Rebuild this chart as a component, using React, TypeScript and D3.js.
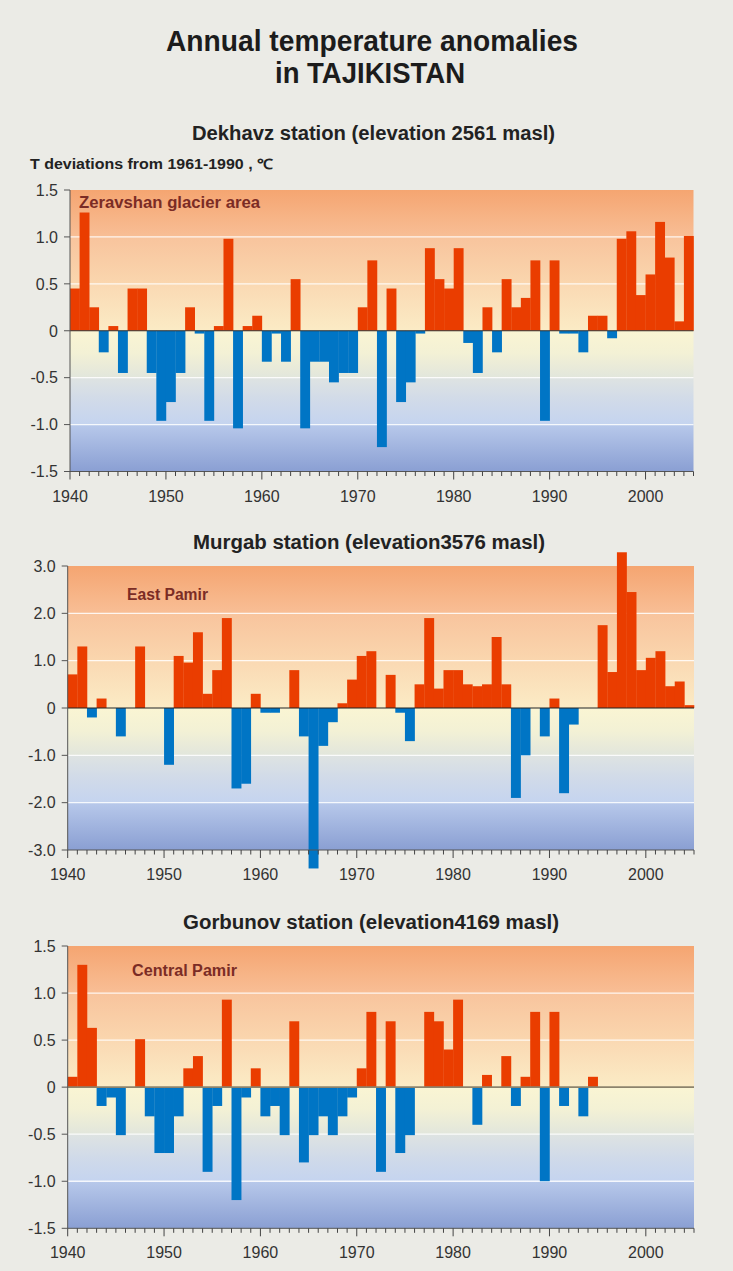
import { useRef, useEffect } from "react";
import * as d3 from "d3";

// years run 1940..2004, one bar per year, axis ends at 2005
const firstYear = 1940;
const lastYear = 2005;
const decadeTicks = [1940, 1950, 1960, 1970, 1980, 1990, 2000];

const narrowTicks = [-1.5, -1.0, -0.5, 0, 0.5, 1.0, 1.5];
const wideTicks = [-3, -2, -1, 0, 1, 2, 3];

// Dekhavz, 1940-2004
const dekhavzValues = [
  0.45, 1.26, 0.25, -0.23, 0.05, -0.45, 0.45, 0.45, -0.45, -0.96,
  -0.76, -0.45, 0.25, -0.03, -0.96, 0.05, 0.98, -1.04, 0.05, 0.16,
  -0.33, -0.03, -0.33, 0.55, -1.04, -0.33, -0.33, -0.55, -0.45, -0.45,
  0.25, 0.75, -1.24, 0.45, -0.76, -0.55, -0.03, 0.88, 0.55, 0.45,
  0.88, -0.13, -0.45, 0.25, -0.23, 0.55, 0.25, 0.35, 0.75, -0.96,
  0.75, -0.03, -0.03, -0.23, 0.16, 0.16, -0.08, 0.98, 1.06, 0.38,
  0.6, 1.16, 0.78, 0.1, 1.01,
];

// Murgab, 1940-2004
const murgabValues = [
  0.71, 1.3, -0.2, 0.2, 0, -0.6, 0, 1.3, 0, 0,
  -1.2, 1.1, 0.96, 1.6, 0.3, 0.8, 1.9, -1.7, -1.6, 0.3,
  -0.1, -0.1, 0, 0.8, -0.6, -3.39, -0.8, -0.3, 0.1, 0.6,
  1.1, 1.2, 0, 0.7, -0.1, -0.7, 0.5, 1.9, 0.41, 0.8,
  0.8, 0.5, 0.46, 0.5, 1.5, 0.5, -1.9, -1.0, 0, -0.6,
  0.2, -1.8, -0.35, 0, 0, 1.75, 0.76, 3.29, 2.45, 0.8,
  1.06, 1.2, 0.46, 0.56, 0.06,
];

// Gorbunov, 1940-1994
const gorbunovValues = [
  0.11, 1.3, 0.63, -0.2, -0.11, -0.51, 0, 0.51, -0.31, -0.7,
  -0.7, -0.31, 0.2, 0.33, -0.9, -0.2, 0.93, -1.2, -0.11, 0.2,
  -0.31, -0.2, -0.51, 0.7, -0.8, -0.51, -0.31, -0.51, -0.31, -0.11,
  0.2, 0.8, -0.9, 0.7, -0.7, -0.51, 0, 0.8, 0.7, 0.4,
  0.93, 0, -0.4, 0.13, 0, 0.33, -0.2, 0.11, 0.8, -1.0,
  0.8, -0.2, 0, -0.31, 0.11,
];

const W = 733;
const H = 1271;
const FONT = "'Liberation Sans', Arial, Helvetica, sans-serif";

const panels = [
  {
    values: dekhavzValues, ticks: narrowTicks,
    left: 70, right: 693.5, top: 190, bottom: 471.5,
    title: "Dekhavz station (elevation 2561 masl)", titleY: 140, titleLeft: 192, titleRight: 555,
    region: "Zeravshan glacier area", regionX: 79, regionY: 208, regionW: 181,
    zeroColor: "#333", zeroWidth: 1.2,
  },
  {
    values: murgabValues, ticks: wideTicks,
    left: 67.7, right: 694, top: 566, bottom: 850,
    title: "Murgab station  (elevation3576 masl)", titleY: 549, titleLeft: 193, titleRight: 545,
    region: "East Pamir", regionX: 127, regionY: 600, regionW: 81,
    zeroColor: "#222", zeroWidth: 1.1,
  },
  {
    values: gorbunovValues, ticks: narrowTicks,
    left: 67.7, right: 694, top: 946, bottom: 1228.3,
    title: "Gorbunov station  (elevation4169 masl)", titleY: 929, titleLeft: 183, titleRight: 559,
    region: "Central Pamir", regionX: 132, regionY: 976, regionW: 105,
    zeroColor: "#8c836c", zeroWidth: 1.8,
  },
];

const gradStops = [
  [0, "#f5a571"], [0.165, "#f8be95"], [0.168, "#f8c49d"],
  [0.333, "#fad6ae"], [0.336, "#fad9b3"], [0.497, "#fbebc5"],
  [0.5, "#faf5d3"], [0.58, "#f3f1d5"], [0.665, "#e2e6dc"],
  [0.668, "#dee3e2"], [0.75, "#d0dae9"], [0.83, "#c5d4ef"],
  [0.835, "#b7c8ea"], [1, "#8a9fd3"],
];

const fmt = (v: number) => (v === 0 ? "0" : v.toFixed(1));

function drawPanel(root: any, p: any) {
  const g = root.append("g");
  const x = d3.scaleLinear().domain([firstYear, lastYear]).range([p.left, p.right]);
  const y = d3.scaleLinear()
    .domain([p.ticks[0], p.ticks[p.ticks.length - 1]])
    .range([p.bottom, p.top]);

  g.append("rect")
    .attr("x", p.left).attr("y", p.top)
    .attr("width", p.right - p.left).attr("height", p.bottom - p.top)
    .attr("fill", "url(#bgGrad)");

  // white grid lines
  g.selectAll("line.grid")
    .data(p.ticks.filter((t: number, i: number) => t !== 0 && i > 0 && i < p.ticks.length - 1))
    .enter().append("line")
    .attr("class", "grid")
    .attr("x1", p.left).attr("x2", p.right)
    .attr("y1", (d: number) => y(d)).attr("y2", (d: number) => y(d))
    .attr("stroke", "#fff").attr("stroke-opacity", 0.85).attr("stroke-width", 1.3);

  const data = p.values.map((v: number, i: number) => ({ year: firstYear + i, v }))
    .filter((d: any) => d.v !== 0);

  g.selectAll("rect.bar")
    .data(data)
    .enter().append("rect")
    .attr("class", "bar")
    .attr("x", (d: any) => x(d.year))
    .attr("width", (d: any) => x(d.year + 1) - x(d.year) + 0.3)
    .attr("y", (d: any) => (d.v > 0 ? y(d.v) : y(0)))
    .attr("height", (d: any) => Math.abs(y(d.v) - y(0)))
    .attr("fill", (d: any) => (d.v > 0 ? "#ea3d00" : "#0075c5"));

  g.append("line")
    .attr("x1", p.left).attr("x2", p.right)
    .attr("y1", y(0)).attr("y2", y(0))
    .attr("stroke", p.zeroColor).attr("stroke-width", p.zeroWidth);

  // y axis
  g.append("line")
    .attr("x1", p.left).attr("x2", p.left)
    .attr("y1", p.top).attr("y2", p.bottom)
    .attr("stroke", "#555").attr("stroke-width", 1);
  g.selectAll("line.ytick")
    .data(p.ticks).enter().append("line")
    .attr("class", "ytick")
    .attr("x1", p.left - 6).attr("x2", p.left)
    .attr("y1", (d: number) => y(d)).attr("y2", (d: number) => y(d))
    .attr("stroke", "#555");
  g.selectAll("text.ylab")
    .data(p.ticks).enter().append("text")
    .attr("class", "ylab")
    .attr("x", p.left - 12).attr("y", (d: number) => y(d))
    .attr("dy", "0.36em")
    .attr("text-anchor", "end")
    .attr("font-family", FONT).attr("font-size", 16).attr("fill", "#333")
    .text((d: number) => fmt(d));

  // x axis
  g.append("line")
    .attr("x1", p.left).attr("x2", p.right)
    .attr("y1", p.bottom).attr("y2", p.bottom)
    .attr("stroke", "#555").attr("stroke-width", 1);
  g.selectAll("line.xtick")
    .data(d3.range(firstYear, lastYear + 1)).enter().append("line")
    .attr("class", "xtick")
    .attr("x1", (d: number) => x(d)).attr("x2", (d: number) => x(d))
    .attr("y1", p.bottom)
    .attr("y2", (d: number) => p.bottom + (d % 10 === 0 ? 8 : 4.5))
    .attr("stroke", "#444");
  g.selectAll("text.xlab")
    .data(decadeTicks).enter().append("text")
    .attr("class", "xlab")
    .attr("x", (d: number) => x(d)).attr("y", p.bottom + 30)
    .attr("text-anchor", "middle")
    .attr("font-family", FONT).attr("font-size", 16).attr("fill", "#333")
    .text((d: number) => d);

  // station title and area label
  g.append("text")
    .attr("x", p.titleLeft).attr("y", p.titleY)
    .attr("textLength", p.titleRight - p.titleLeft)
    .attr("lengthAdjust", "spacingAndGlyphs")
    .attr("font-family", FONT).attr("font-weight", "bold").attr("font-size", 20)
    .attr("fill", "#222")
    .text(p.title);

  g.append("text")
    .attr("x", p.regionX).attr("y", p.regionY)
    .attr("textLength", p.regionW)
    .attr("lengthAdjust", "spacingAndGlyphs")
    .attr("font-family", FONT).attr("font-weight", "bold").attr("font-size", 16)
    .attr("fill", "#7b2c25")
    .text(p.region);
}

export default function App() {
  const svgRef = useRef(null);

  useEffect(() => {
    const svg = d3.select(svgRef.current);
    svg.selectAll("*").remove();
    svg.attr("viewBox", [0, 0, W, H]);

    const grad = svg.append("defs").append("linearGradient")
      .attr("id", "bgGrad")
      .attr("x1", 0).attr("y1", 0).attr("x2", 0).attr("y2", 1);
    grad.selectAll("stop").data(gradStops).enter().append("stop")
      .attr("offset", (d: any) => d[0])
      .attr("stop-color", (d: any) => d[1]);

    svg.append("rect").attr("width", W).attr("height", H).attr("fill", "#ebebe6");

    svg.append("text")
      .attr("x", 166).attr("y", 51)
      .attr("textLength", 412).attr("lengthAdjust", "spacingAndGlyphs")
      .attr("font-family", FONT).attr("font-weight", "bold").attr("font-size", 30)
      .attr("fill", "#1c1c1c")
      .text("Annual temperature anomalies");
    svg.append("text")
      .attr("x", 275).attr("y", 83)
      .attr("textLength", 190).attr("lengthAdjust", "spacingAndGlyphs")
      .attr("font-family", FONT).attr("font-weight", "bold").attr("font-size", 30)
      .attr("fill", "#1c1c1c")
      .text("in TAJIKISTAN");

    svg.append("text")
      .attr("x", 30).attr("y", 169)
      .attr("textLength", 243).attr("lengthAdjust", "spacingAndGlyphs")
      .attr("font-family", FONT).attr("font-weight", "bold").attr("font-size", 14)
      .attr("fill", "#222")
      .text("T deviations from 1961-1990 , ℃");

    panels.forEach((p) => drawPanel(svg, p));
  }, []);

  return (
    <div style={{ position: "absolute", left: 0, top: 0 }}>
      <svg ref={svgRef} width={W} height={H} style={{ display: "block" }}></svg>
    </div>
  );
}
